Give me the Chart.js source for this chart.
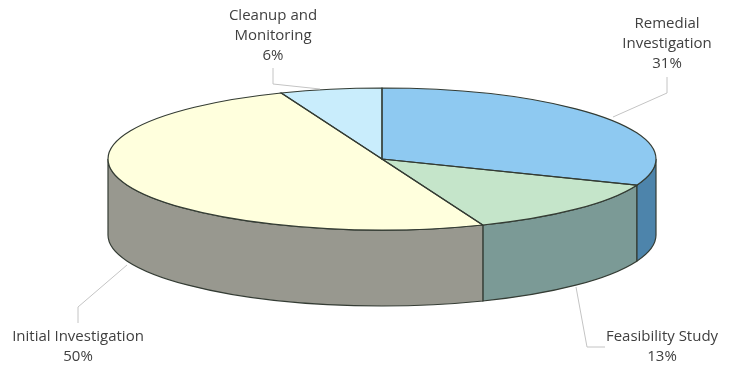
<!DOCTYPE html>
<html>
<head>
<meta charset="utf-8">
<title>Project phases</title>
<script src="https://cdn.jsdelivr.net/npm/chart.js@4"></script>
<style>
  html, body { margin: 0; padding: 0; background: #fff; }
  canvas { display: block; }
</style>
</head>
<body>
<canvas id="pie" width="733" height="365"></canvas>
<script>
  // slice data, clockwise from twelve o'clock
  const phases = ['Remedial Investigation', 'Feasibility Study', 'Initial Investigation', 'Cleanup and Monitoring'];
  const shares = [31, 13, 50, 6];
  const topColors = ['#8ec9f1', '#c5e5ca', '#ffffdd', '#c9edfc'];
  const wallColors = ['#4d84ab', '#7b9a96', '#98988f', '#8aa6b0'];

  // tilted disc geometry
  const DISC = { x: 382, y: 159, rx: 274, ry: 71, depth: 76 };
  const OUTLINE = '#343c34';

  // callout text wrapping and placement, same order as phases
  const callouts = [
    { lines: ['Remedial', 'Investigation'], x: 667, y: 24, leader: [[667, 77], [667, 93], [613, 117]] },
    { lines: ['Feasibility Study'], x: 662, y: 337, leader: [[576, 287], [587, 347], [605, 347]] },
    { lines: ['Initial Investigation'], x: 78, y: 337, leader: [[127, 265], [78, 307], [78, 323]] },
    { lines: ['Cleanup and', 'Monitoring'], x: 273, y: 16, leader: [[273, 68], [273, 84], [320, 89]] }
  ];

  function drawWalls(chart) {
    const ctx = chart.ctx;
    const arcs = chart.getDatasetMeta(0).data;
    arcs.forEach(function (arc, i) {
      // only the part of the rim facing the viewer is visible
      const from = Math.max(arc.startAngle, 0);
      const to = Math.min(arc.endAngle, Math.PI);
      if (to <= from) return;
      ctx.beginPath();
      ctx.ellipse(DISC.x, DISC.y, DISC.rx, DISC.ry, 0, from, to);
      ctx.ellipse(DISC.x, DISC.y + DISC.depth, DISC.rx, DISC.ry, 0, to, from, true);
      ctx.closePath();
      ctx.fillStyle = wallColors[i];
      ctx.fill();
      ctx.lineWidth = 1.2;
      ctx.strokeStyle = OUTLINE;
      ctx.stroke();
    });
  }

  function drawTopOutlines(chart) {
    const ctx = chart.ctx;
    ctx.lineWidth = 1.2;
    ctx.strokeStyle = OUTLINE;
    chart.getDatasetMeta(0).data.forEach(function (arc) {
      ctx.beginPath();
      ctx.moveTo(DISC.x, DISC.y);
      ctx.ellipse(DISC.x, DISC.y, DISC.rx, DISC.ry, 0, arc.startAngle, arc.endAngle);
      ctx.closePath();
      ctx.stroke();
    });
  }

  function drawCallouts(chart) {
    const ctx = chart.ctx;
    ctx.lineWidth = 1;
    ctx.strokeStyle = '#c4c4c4';
    ctx.font = '15px "Open Sans", sans-serif';
    ctx.fillStyle = '#404040';
    ctx.textAlign = 'center';
    ctx.textBaseline = 'middle';
    callouts.forEach(function (c, i) {
      ctx.beginPath();
      c.leader.forEach(function (p, k) {
        if (k === 0) ctx.moveTo(p[0], p[1]);
        else ctx.lineTo(p[0], p[1]);
      });
      ctx.stroke();
      c.lines.concat(shares[i] + '%').forEach(function (text, k) {
        ctx.fillText(text, c.x, c.y + k * 20);
      });
    });
  }

  // Chart.js only draws round pies, so squash its arcs into the disc's top face
  const tiltPlugin = {
    id: 'tilt',
    beforeDatasetsDraw: function (chart) {
      const ctx = chart.ctx;
      const first = chart.getDatasetMeta(0).data[0];
      drawWalls(chart);
      ctx.save();
      ctx.translate(DISC.x, DISC.y);
      ctx.scale(DISC.rx / first.outerRadius, DISC.ry / first.outerRadius);
      ctx.translate(-first.x, -first.y);
    },
    afterDatasetsDraw: function (chart) {
      chart.ctx.restore();
      drawTopOutlines(chart);
      drawCallouts(chart);
    }
  };

  new Chart(document.getElementById('pie'), {
    type: 'pie',
    data: {
      labels: phases,
      datasets: [{
        data: shares,
        backgroundColor: topColors,
        borderWidth: 0
      }]
    },
    options: {
      responsive: false,
      animation: false,
      events: [],
      plugins: {
        legend: { display: false },
        tooltip: { enabled: false }
      }
    },
    plugins: [tiltPlugin]
  });
</script>
</body>
</html>
